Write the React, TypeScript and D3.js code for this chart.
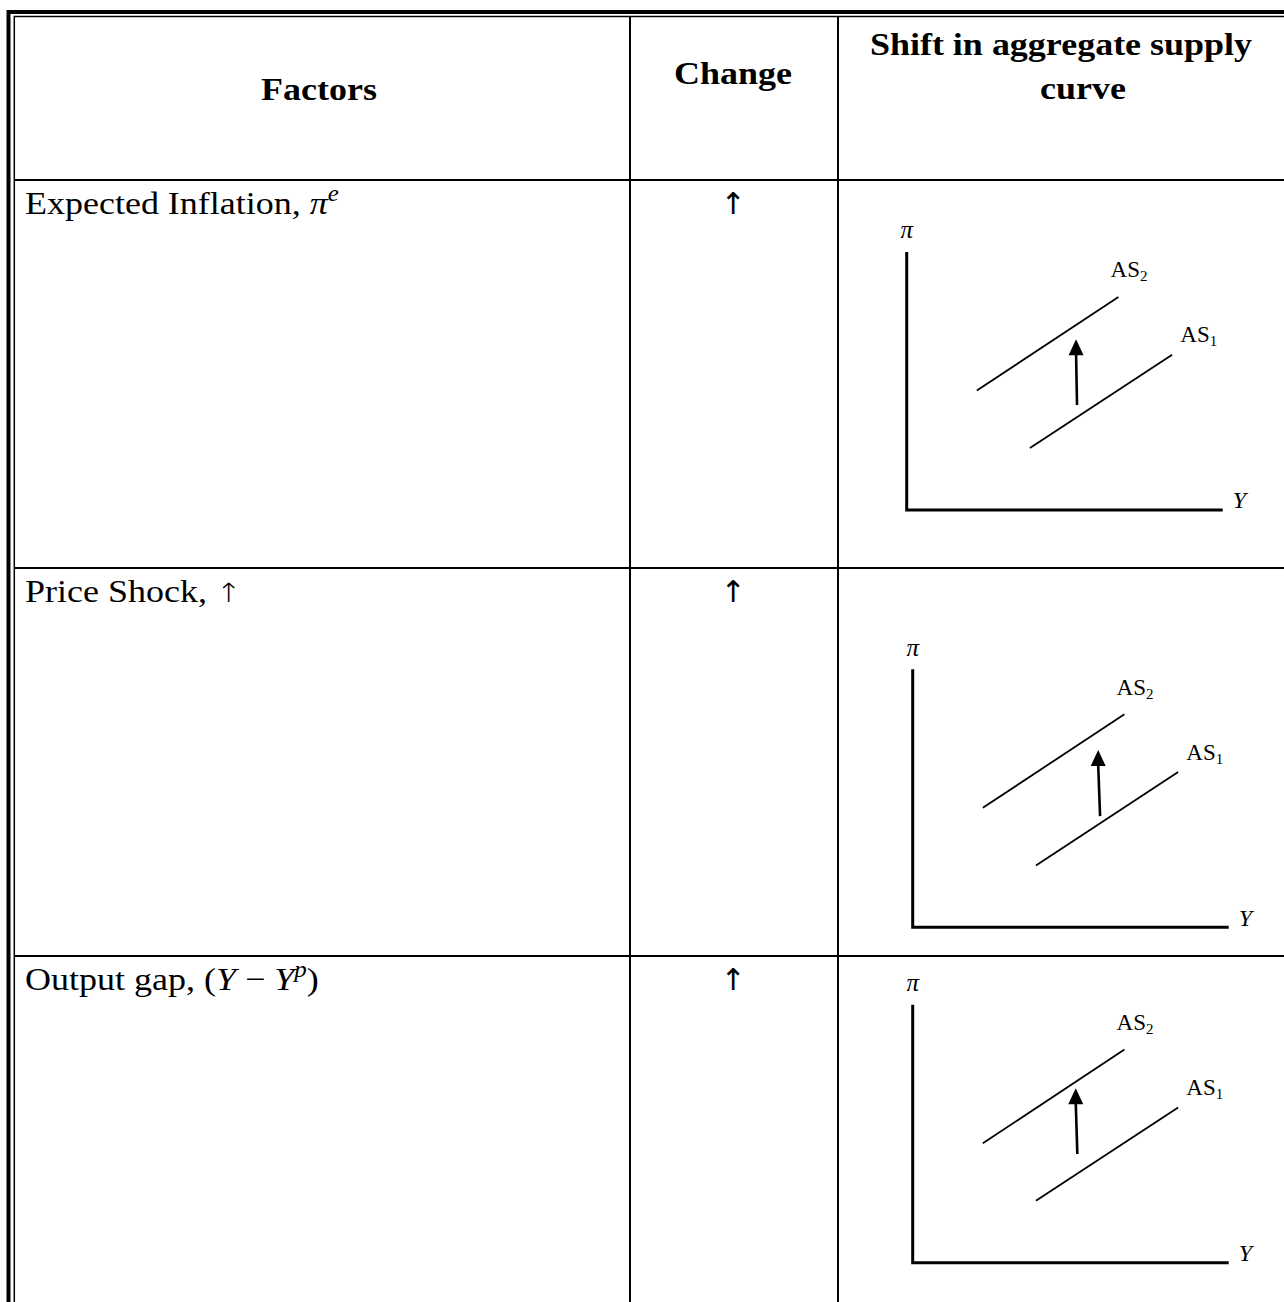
import React from "react";
import { scaleLinear, line } from "d3";

// table text
const headerCols = ["Factors", "Change"];
const shiftHeader = ["Shift in aggregate supply", "curve"];
const changes = ["↑", "↑", "↑"];

// factor labels, split into plain / italic / superscript runs
const factorRuns = [
  [
    { t: "Expected Inflation, " },
    { t: "π", it: true },
    { t: "e", it: true, sup: true }
  ],
  [{ t: "Price Shock, " }, { t: "↑", arrow: true }],
  [
    { t: "Output gap, (" },
    { t: "Y", it: true },
    { t: " − " },
    { t: "Y", it: true },
    { t: "p", it: true, sup: true },
    { t: ")" }
  ]
];

// diagram data, in axis units (Y and π both 0..100)
const as1 = [
  [39, 24],
  [84, 60.2]
];
const as2 = [
  [22.2, 46.3],
  [67, 82.6]
];
const shiftArrows = [
  [[53.9, 40.7], [53.6, 66.2]],
  [[59.3, 43.1], [58.7, 68.7]],
  [[52.1, 42.1], [51.6, 67.6]]
];
const curveLabels = [
  { name: "AS", sub: "2", y: 64.5, p: 90.2 },
  { name: "AS", sub: "1", y: 86.6, p: 65 }
];

const W = 1284,
  H = 1302;
const rowTops = [180, 568, 956];
const colX = [630, 838];
const panelOrigins = [
  [906.7, 510],
  [912.7, 927.3],
  [912.7, 1262.7]
];
const serif = "Liberation Serif";
const arrowFont = "DejaVu Sans";

function Diagram({ origin, arrow }) {
  const [ox, oy] = origin;
  const x = scaleLinear().domain([0, 100]).range([ox, ox + 316]);
  const y = scaleLinear().domain([0, 100]).range([oy, oy - 258]);
  const path = line()
    .x(d => x(d[0]))
    .y(d => y(d[1]));

  const [from, to] = arrow;
  const tipX = x(to[0]),
    tipY = y(to[1]);
  const headH = 16,
    headW = 15;

  return (
    <g>
      <path
        d={`M${x(0)},${y(100)}V${y(0)}H${x(100)}`}
        fill="none"
        stroke="#000"
        strokeWidth={3}
      />
      <path d={path(as1)} stroke="#000" strokeWidth={1.8} fill="none" />
      <path d={path(as2)} stroke="#000" strokeWidth={1.8} fill="none" />
      <line
        x1={x(from[0])}
        y1={y(from[1])}
        x2={tipX}
        y2={tipY + headH - 1}
        stroke="#000"
        strokeWidth={2.6}
      />
      <path
        d={`M${tipX},${tipY}L${tipX + headW / 2},${tipY + headH}L${tipX - headW / 2},${tipY + headH}Z`}
        fill="#000"
      />
      {curveLabels.map(l => (
        <text key={l.sub} x={x(l.y)} y={y(l.p)} style={{ fontSize: 23 }}>
          {l.name}
          <tspan dy={4} style={{ fontSize: 15 }}>
            {l.sub}
          </tspan>
        </text>
      ))}
      <text x={x(-2)} y={y(105.3)} style={{ fontSize: 25, fontStyle: "italic" }}>
        π
      </text>
      <text x={x(103.2)} y={y(0.6)} style={{ fontSize: 24, fontStyle: "italic" }}>
        Y
      </text>
    </g>
  );
}

export default function App() {
  return (
    <svg
      width={W}
      height={H}
      style={{
        position: "absolute",
        left: 0,
        top: 0,
        background: "#fff",
        fontFamily: serif
      }}
    >
      {/* double outer border */}
      <path d={`M8.5,${H}V12H${W}`} fill="none" stroke="#000" strokeWidth={4} />
      <path d={`M14.3,${H}V16.5H${W}`} fill="none" stroke="#000" strokeWidth={1.5} />

      {colX.map(cx => (
        <line key={cx} x1={cx} x2={cx} y1={17} y2={H} stroke="#000" strokeWidth={2} />
      ))}
      {rowTops.map(ry => (
        <line key={ry} x1={15} x2={W} y1={ry} y2={ry} stroke="#000" strokeWidth={2} />
      ))}

      {/* header */}
      <g style={{ fontWeight: "bold", fontSize: 36 }} textAnchor="middle">
        <text transform="translate(319,100) scale(1,0.89)">{headerCols[0]}</text>
        <text transform="translate(733,84) scale(1,0.89)">{headerCols[1]}</text>
        <text transform="translate(1061,55) scale(1,0.89)">{shiftHeader[0]}</text>
        <text transform="translate(1083,99) scale(1,0.89)">{shiftHeader[1]}</text>
      </g>

      {factorRuns.map((runs, i) => (
        <text
          key={i}
          transform={`translate(25,${rowTops[i] + 34}) scale(1,0.89)`}
          style={{ fontSize: 36 }}
        >
          {runs.map((r, j) => {
            const prev = runs[j - 1];
            let dy = 0;
            if (r.sup) dy = -15;
            else if (prev && prev.sup) dy = 15;
            return (
              <tspan
                key={j}
                dy={dy}
                style={{
                  fontStyle: r.it ? "italic" : "normal",
                  fontSize: r.sup ? 25 : r.arrow ? 30 : 36,
                  fontFamily: r.arrow ? arrowFont : serif,
                  fontWeight: r.arrow ? 200 : "normal"
                }}
              >
                {r.t}
              </tspan>
            );
          })}
        </text>
      ))}

      {changes.map((c, i) => (
        <text
          key={i}
          x={733}
          y={rowTops[i] + 34}
          textAnchor="middle"
          fill="#000"
          style={{ fontSize: 30, fontFamily: arrowFont }}
        >
          {c}
        </text>
      ))}

      {panelOrigins.map((o, i) => (
        <Diagram key={i} origin={o} arrow={shiftArrows[i]} />
      ))}
    </svg>
  );
}
